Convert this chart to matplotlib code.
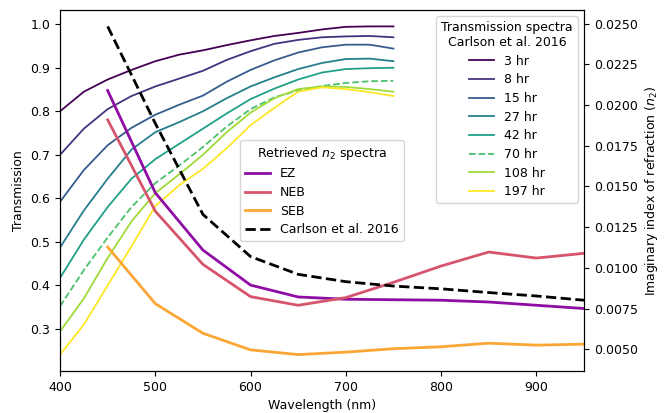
#!/usr/bin/env python

# Import libraries
import matplotlib
matplotlib.use('Agg')
import matplotlib.pyplot as plt
import matplotlib.ticker as mticker
import numpy as np

plt.rcParams['font.size'] = 9

# Transmission spectra (Carlson et al. 2016)
wl_trans = [400, 425, 450, 475, 500, 525, 550, 575, 600, 625, 650, 675, 700, 725, 750]
trans_labels = ['3 hr', '8 hr', '15 hr', '27 hr', '42 hr', '70 hr', '108 hr', '197 hr']
t_3hr = [0.800, 0.845, 0.873, 0.895, 0.915, 0.930, 0.940, 0.952, 0.963, 0.973, 0.980, 0.988, 0.994, 0.995, 0.995]
t_8hr = [0.700, 0.760, 0.805, 0.835, 0.857, 0.875, 0.893, 0.918, 0.938, 0.955, 0.964, 0.970, 0.972, 0.973, 0.970]
t_15hr = [0.592, 0.665, 0.722, 0.762, 0.792, 0.815, 0.836, 0.868, 0.895, 0.917, 0.935, 0.947, 0.953, 0.953, 0.944]
t_27hr = [0.487, 0.572, 0.645, 0.712, 0.752, 0.775, 0.800, 0.830, 0.857, 0.878, 0.897, 0.911, 0.920, 0.921, 0.915]
t_42hr = [0.417, 0.505, 0.580, 0.645, 0.690, 0.725, 0.760, 0.795, 0.828, 0.852, 0.873, 0.889, 0.897, 0.899, 0.900]
t_70hr = [0.352, 0.435, 0.510, 0.580, 0.635, 0.675, 0.718, 0.765, 0.805, 0.832, 0.848, 0.858, 0.865, 0.869, 0.870]
t_108hr = [0.294, 0.370, 0.463, 0.547, 0.612, 0.655, 0.700, 0.752, 0.797, 0.830, 0.851, 0.857, 0.856, 0.851, 0.845]
t_197hr = [0.241, 0.310, 0.400, 0.490, 0.582, 0.630, 0.668, 0.715, 0.768, 0.808, 0.845, 0.855, 0.851, 0.844, 0.835]

# Retrieved imaginary index spectra
wl_n2 = [450, 500, 550, 600, 650, 700, 750, 800, 850, 900, 950]
n2_ez = [0.02089, 0.01461, 0.01109, 0.00894, 0.00821, 0.00807, 0.00804, 0.00801, 0.00790, 0.00770, 0.00750]
n2_neb = [0.01909, 0.01348, 0.01021, 0.00823, 0.00770, 0.00817, 0.00911, 0.01011, 0.01097, 0.01060, 0.01089]
n2_seb = [0.01128, 0.00780, 0.00598, 0.00496, 0.00467, 0.00482, 0.00503, 0.00515, 0.00537, 0.00525, 0.00531]
n2_carlson = [0.02483, 0.01887, 0.01328, 0.01069, 0.00960, 0.00915, 0.00888, 0.00871, 0.00848, 0.00827, 0.00801]

trans_data = [t_3hr, t_8hr, t_15hr, t_27hr, t_42hr, t_70hr, t_108hr, t_197hr]

fig, ax = plt.subplots(figsize=(6.7, 4.13), dpi=100)
fig.subplots_adjust(left=0.0896, right=0.8716, top=0.9758, bottom=0.1017)

# viridis colours for the lab transmission spectra
colors = plt.cm.viridis(np.linspace(0, 1, len(trans_data)))
for i, (t, lab) in enumerate(zip(trans_data, trans_labels)):
    ls = '--' if lab == '70 hr' else '-'
    ax.plot(wl_trans, t, color=colors[i], ls=ls, lw=1.3, label=lab)

ax.set_xlim(400, 950)
ax.set_xlabel("Wavelength (nm)")
ax.set_ylabel("Transmission")

# retrieved n2 on the right axis
ax2 = ax.twinx()
pcols = plt.cm.plasma([0.3, 0.55, 0.8])
ax2.plot(wl_n2, n2_ez, color=pcols[0], lw=2, label='EZ')
ax2.plot(wl_n2, n2_neb, color=pcols[1], lw=2, label='NEB')
ax2.plot(wl_n2, n2_seb, color=pcols[2], lw=2, label='SEB')
ax2.plot(wl_n2, n2_carlson, color='k', ls='--', lw=2, label='Carlson et al. 2016')
ax2.set_ylabel("Imaginary index of refraction ($n_2$)")
ax2.yaxis.set_major_formatter(mticker.FormatStrFormatter('%.4f'))

leg1 = ax2.legend(*ax.get_legend_handles_labels(), loc='upper right',
                  title="Transmission spectra\nCarlson et al. 2016",
                  alignment='center', labelspacing=0.45)
leg1.get_title().set_multialignment('center')
ax2.add_artist(leg1)
ax2.legend(loc='center', title="Retrieved $n_2$ spectra",
           alignment='center', labelspacing=0.45)

fig.savefig('out.png', dpi=100)
